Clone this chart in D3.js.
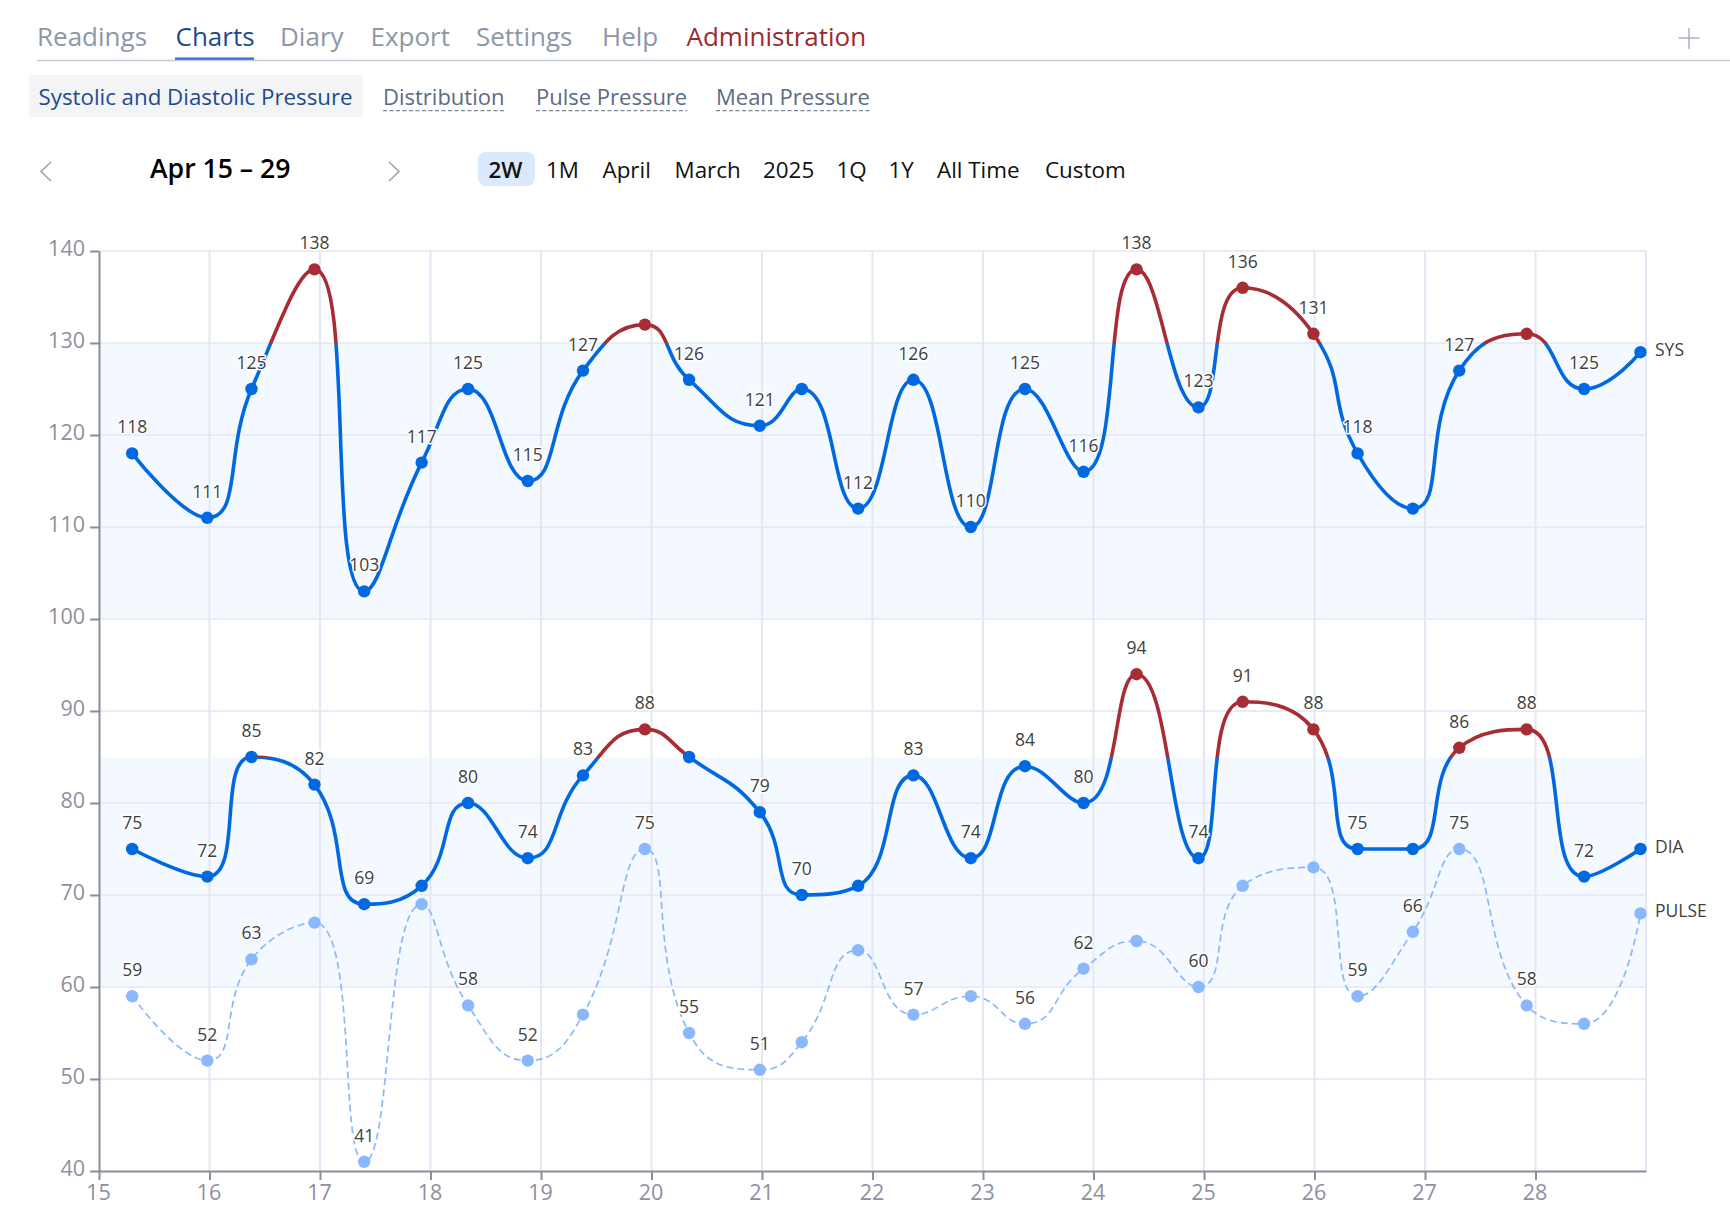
<!DOCTYPE html>
<html>
<head>
    <title>Blood Pressure Charts</title>
    <script src="https://cdnjs.cloudflare.com/ajax/libs/d3/7.8.5/d3.min.js"></script>
    <style>
        body { margin: 0; background: #fff; font-family: "Open Sans", sans-serif; }
        svg { display: block; }
        .domain { stroke: #8c8c9b; stroke-width: 2; }
        .tick line { stroke: #8c8c9b; stroke-width: 2; }
        .tick text { fill: #8f8f9e; font-size: 21.5px; font-family: "Open Sans", sans-serif; }
        .val { font-size: 17.5px; fill: #3f3f3f; text-anchor: middle; stroke: #fff; stroke-width: 3px; paint-order: stroke; stroke-linejoin: round; }
        .name { font-size: 17.5px; fill: #3f3f3f; }
    </style>
</head>
<body>
    <svg id="chart" width="1730" height="1230"></svg>
    <script>
        // header strips
        const navItems = ["Readings", "Charts", "Diary", "Export", "Settings", "Help", "Administration"];
        const navX = [37, 175.5, 280, 370.5, 476, 602, 686.5];
        const subItems = ["Systolic and Diastolic Pressure", "Distribution", "Pulse Pressure", "Mean Pressure"];
        const subX = [38.5, 383, 536, 716];
        const rangeItems = ["2W", "1M", "April", "March", "2025", "1Q", "1Y", "All Time", "Custom"];
        const rangeX = [488.5, 546, 602.5, 674.5, 763, 836.5, 888.5, 937, 1045];

        // chart data, x is day of April
        const days = [15.30, 15.98, 16.38, 16.95, 17.40, 17.92, 18.34, 18.88, 19.38, 19.94, 20.34, 20.98, 21.36, 21.87,
            22.37, 22.89, 23.38, 23.91, 24.39, 24.95, 25.35, 25.99, 26.39, 26.89, 27.31, 27.92, 28.44, 28.95];
        const sys = [118, 111, 125, 138, 103, 117, 125, 115, 127, 132, 126, 121, 125, 112,
            126, 110, 125, 116, 138, 123, 136, 131, 118, 112, 127, 131, 125, 129];
        const dia = [75, 72, 85, 82, 69, 71, 80, 74, 83, 88, 85, 79, 70, 71,
            83, 74, 84, 80, 94, 74, 91, 88, 75, 75, 86, 88, 72, 75];
        const pulse = [59, 52, 63, 67, 41, 69, 58, 52, 57, 75, 55, 51, 54, 64,
            57, 59, 56, 62, 65, 60, 71, 73, 59, 66, 75, 58, 56, 68];
        // points whose value label is not shown
        const sysHidden = [9, 12, 23, 25, 27];
        const diaHidden = [5, 10, 13, 23, 27];
        const pulseHidden = [3, 5, 8, 12, 13, 15, 18, 20, 21, 26, 27];
        const dayTicks = [15, 16, 17, 18, 19, 20, 21, 22, 23, 24, 25, 26, 27, 28];
        const valueTicks = [40, 50, 60, 70, 80, 90, 100, 110, 120, 130, 140];
        const sysBand = [100, 130];
        const diaBand = [60, 85];

        const blue = "#0069e0", red = "#a82c34", light = "#8ab8ff";

        const svg = d3.select("#chart");

        // top nav
        navItems.forEach((t, i) => {
            svg.append("text").attr("x", navX[i]).attr("y", 46).text(t)
                .attr("font-size", 26)
                .attr("fill", t === "Charts" ? "#1e4b8f" : t === "Administration" ? "#9b2a2f" : "#8c97a8");
        });
        svg.append("rect").attr("x", 175).attr("y", 57.5).attr("width", 79).attr("height", 3).attr("fill", "#2f6fd6");
        svg.append("line").attr("x1", 37).attr("x2", 1730).attr("y1", 60.5).attr("y2", 60.5).attr("stroke", "#c5cbd6").attr("stroke-width", 1.3);
        svg.append("path").attr("d", "M1678.5,38H1699.5M1689,28V49").attr("stroke", "#a9b2c0").attr("stroke-width", 1.5);

        // sub tabs
        svg.append("rect").attr("x", 28.7).attr("y", 75).attr("width", 334.3).attr("height", 42).attr("fill", "#f3f4f6");
        subItems.forEach((t, i) => {
            const label = svg.append("text").attr("x", subX[i]).attr("y", 105).text(t)
                .attr("font-size", i === 0 ? 22.3 : 22)
                .attr("fill", i === 0 ? "#1e4b8f" : "#5b6b85");
            if (i > 0) {
                const w = label.node().getComputedTextLength();
                svg.append("line").attr("x1", subX[i]).attr("x2", subX[i] + w).attr("y1", 110.7).attr("y2", 110.7)
                    .attr("stroke", "#7d8799").attr("stroke-width", 1.3).attr("stroke-dasharray", "4,2.5");
            }
        });

        // date range row
        svg.append("path").attr("d", "M51,162L41,171.5L51,181").attr("fill", "none").attr("stroke", "#9aa3b0").attr("stroke-width", 1.5);
        svg.append("path").attr("d", "M389,162L399,171.5L389,181").attr("fill", "none").attr("stroke", "#9aa3b0").attr("stroke-width", 1.5);
        svg.append("text").attr("x", 150).attr("y", 178).text("Apr 15 – 29")
            .attr("font-size", 26.6).attr("font-weight", 600).attr("fill", "#000");
        svg.append("rect").attr("x", 478).attr("y", 152).attr("width", 57).attr("height", 34).attr("rx", 8).attr("fill", "#dbe9fe");
        rangeItems.forEach((t, i) => {
            svg.append("text").attr("x", rangeX[i]).attr("y", 178).text(t)
                .attr("font-size", 22.4).attr("fill", "#111")
                .attr("font-weight", i === 0 ? 600 : 400);
        });

        // chart
        const x = d3.scaleLinear().domain([15, 29]).range([99, 1646]);
        const y = d3.scaleLinear().domain([40, 140]).range([1171, 251]);

        for (const band of [sysBand, diaBand]) {
            svg.append("rect").attr("x", x(15)).attr("width", x(29) - x(15))
                .attr("y", y(band[1])).attr("height", y(band[0]) - y(band[1]))
                .attr("fill", "#f4f8ff");
        }

        svg.append("g").selectAll("line").data(valueTicks.slice(1)).join("line")
            .attr("x1", x(15)).attr("x2", x(29)).attr("y1", d => y(d)).attr("y2", d => y(d))
            .attr("stroke", "#e8ecf6").attr("stroke-width", 2);
        svg.append("g").selectAll("line").data(dayTicks.slice(1).concat([29])).join("line")
            .attr("x1", d => x(d)).attr("x2", d => x(d)).attr("y1", y(140)).attr("y2", y(40))
            .attr("stroke", "#e3e7f3").attr("stroke-width", 2);

        svg.append("g").attr("transform", `translate(0,${y(40)})`)
            .call(d3.axisBottom(x).tickValues(dayTicks).tickSize(9).tickSizeOuter(0).tickPadding(5).tickFormat(d3.format("d")))
            .selectAll(".tick text").attr("dx", "-1");
        svg.append("g").attr("transform", `translate(${x(15)},0)`)
            .call(d3.axisLeft(y).tickValues(valueTicks).tickSize(9).tickSizeOuter(0).tickPadding(5))
            .selectAll(".tick text").attr("dy", "0.2em");

        // smoothing with handles of half the x gap, flattened where the line turns
        function smoothCurve(context) {
            let pts = [];
            return {
                areaStart() {}, areaEnd() {},
                lineStart() { pts = []; },
                point(px, py) { pts.push([+px, +py]); },
                lineEnd() {
                    const s = 0.5, n = pts.length;
                    const clamp = (v, a, b) => Math.min(Math.max(v, Math.min(a, b)), Math.max(a, b));
                    let c0 = pts[0];
                    context.moveTo(pts[0][0], pts[0][1]);
                    for (let i = 1; i < n; i++) {
                        const [px, py] = pts[i];
                        let c1 = [px, py], next = [px, py];
                        if (i < n - 1) {
                            const p0 = pts[i - 1], p2 = pts[i + 1];
                            const lenPrev = Math.hypot(px - p0[0], py - p0[1]);
                            const lenNext = Math.hypot(p2[0] - px, p2[1] - py);
                            const ratio = lenNext / (lenNext + lenPrev);
                            const vx = p2[0] - p0[0], vy = p2[1] - p0[1];
                            let nx = clamp(px + vx * s * ratio, px, p2[0]);
                            let ny = clamp(py + vy * s * ratio, py, p2[1]);
                            let cx = clamp(px - (nx - px) * lenPrev / lenNext, px, p0[0]);
                            let cy = clamp(py - (ny - py) * lenPrev / lenNext, py, p0[1]);
                            nx = px + (px - cx) * lenNext / lenPrev;
                            ny = py + (py - cy) * lenNext / lenPrev;
                            c1 = [cx, cy];
                            next = [nx, ny];
                        }
                        context.bezierCurveTo(c0[0], c0[1], c1[0], c1[1], px, py);
                        c0 = next;
                    }
                }
            };
        }

        const line = d3.line().x(d => x(d[0])).y(d => y(d[1])).curve(smoothCurve);

        // clip areas for the over-limit colouring
        const defs = svg.append("defs");
        function addClip(id, top, bottom) {
            defs.append("clipPath").attr("id", id).append("rect")
                .attr("x", 0).attr("width", 1730).attr("y", y(top)).attr("height", y(bottom) - y(top));
        }
        addClip("sys-high", 150, sysBand[1]);
        addClip("sys-low", sysBand[1], 40);
        addClip("dia-high", 150, diaBand[1]);
        addClip("dia-low", diaBand[1], 40);

        function drawPressure(name, values, limit, hidden) {
            const pts = days.map((d, i) => [d, values[i]]);
            svg.append("path").attr("d", line(pts)).attr("fill", "none")
                .attr("stroke", blue).attr("stroke-width", 3.6).attr("clip-path", `url(#${name}-low)`);
            svg.append("path").attr("d", line(pts)).attr("fill", "none")
                .attr("stroke", red).attr("stroke-width", 3.6).attr("clip-path", `url(#${name}-high)`);
            svg.append("g").selectAll("circle").data(pts).join("circle")
                .attr("cx", d => x(d[0])).attr("cy", d => y(d[1])).attr("r", 6.2)
                .attr("fill", d => d[1] > limit ? red : blue);
            drawValues(pts, hidden);
        }

        function drawValues(pts, hidden) {
            svg.append("g").selectAll("text").data(pts.filter((d, i) => !hidden.includes(i))).join("text")
                .attr("class", "val")
                .attr("x", d => x(d[0])).attr("y", d => y(d[1]) - 20)
                .text(d => d[1]);
        }

        const pulsePts = days.map((d, i) => [d, pulse[i]]);
        svg.append("path").attr("d", line(pulsePts)).attr("fill", "none")
            .attr("stroke", light).attr("stroke-width", 1.7).attr("stroke-dasharray", "7,4");
        svg.append("g").selectAll("circle").data(pulsePts).join("circle")
            .attr("cx", d => x(d[0])).attr("cy", d => y(d[1])).attr("r", 6.2).attr("fill", light);
        drawValues(pulsePts, pulseHidden);

        drawPressure("dia", dia, diaBand[1], diaHidden);
        drawPressure("sys", sys, sysBand[1], sysHidden);

        // series names at the line ends
        const last = days.length - 1;
        [["SYS", sys[last]], ["DIA", dia[last]], ["PULSE", pulse[last]]].forEach(([n, v]) => {
            svg.append("text").attr("class", "name").attr("x", 1655).attr("y", y(v) + 4).text(n);
        });
    </script>
</body>
</html>
